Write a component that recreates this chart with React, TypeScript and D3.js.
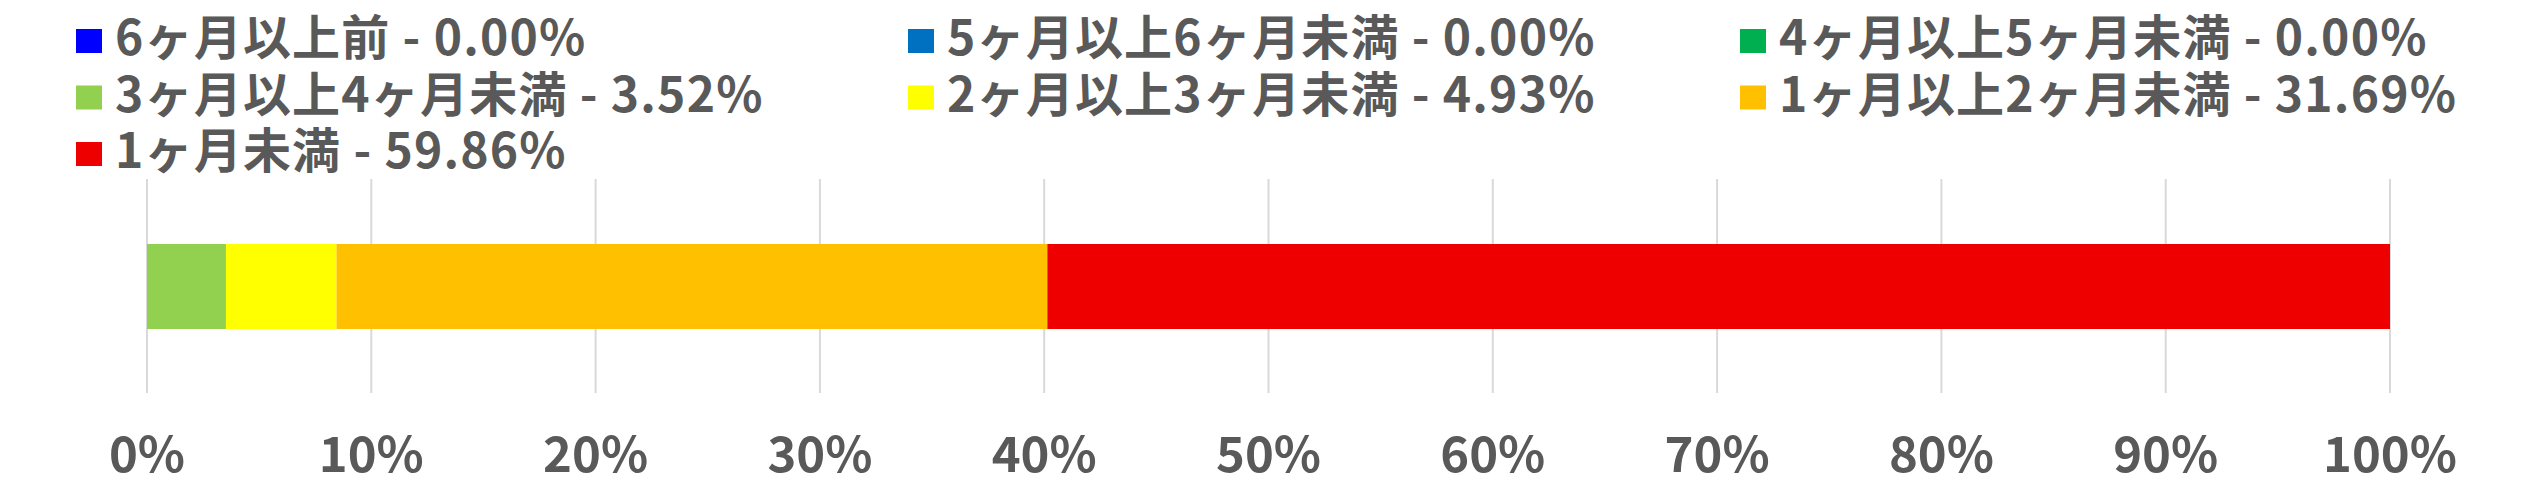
import * as d3 from 'd3';

const CATEGORIES: string[] = [
  '6ヶ月以上前',
  '5ヶ月以上6ヶ月未満',
  '4ヶ月以上5ヶ月未満',
  '3ヶ月以上4ヶ月未満',
  '2ヶ月以上3ヶ月未満',
  '1ヶ月以上2ヶ月未満',
  '1ヶ月未満',
];

const VALUES: number[] = [0, 0, 0, 3.52, 4.93, 31.69, 59.86];

const COLORS: string[] = ['#0000FF', '#0070C0', '#00B050', '#92D050', '#FFFF00', '#FFC000', '#EE0000'];

const TICKS: number[] = [0, 10, 20, 30, 40, 50, 60, 70, 80, 90, 100];

const W = 2522;
const H = 499;
const FONT = '"Noto Sans CJK JP", "Noto Sans", sans-serif';
const INK = '#595959';

export default function App() {
  const x = d3.scaleLinear().domain([0, 100]).range([147, 2390]);

  // cumulative starts for the single stacked bar
  const starts = d3.cumsum([0, ...VALUES.slice(0, -1)]);
  const segments = VALUES.map((v, i) => ({ value: v, start: starts[i], color: COLORS[i] }));

  const barTop = 244;
  const barBottom = 329;
  const gridTop = 179;
  const gridBottom = 393;

  // legend: 3 columns, row-major
  const legendCols = 3;
  const colX = d3.scaleLinear().domain([0, 1]).range([76, 908]);
  const rowY = d3.scaleLinear().domain([0, 1]).range([55, 111.5]);

  return (
    <svg width={W} height={H} style={{ position: 'absolute', left: 0, top: 0, background: '#fff' }}>
      {/* Gridlines */}
      {TICKS.map(t => (
        <line key={`g-${t}`} x1={x(t)} x2={x(t)} y1={gridTop} y2={gridBottom} stroke="#D9D9D9" strokeWidth={2} />
      ))}

      {/* Stacked bar */}
      {segments.filter(s => s.value > 0).map((s, i) => (
        <rect
          key={`s-${i}`}
          x={x(s.start)}
          y={barTop}
          width={x(s.start + s.value) - x(s.start)}
          height={barBottom - barTop}
          fill={s.color}
        />
      ))}

      {/* X axis labels */}
      {TICKS.map(t => (
        <text
          key={`t-${t}`} x={x(t)} y={472}
          textAnchor="middle" fontSize={49} fontWeight={700}
          fontFamily={FONT} fill={INK}
        >
          {t}%
        </text>
      ))}

      {/* Legend */}
      {CATEGORIES.map((c, i) => {
        const col = i % legendCols;
        const row = Math.floor(i / legendCols);
        const lx = colX(col);
        const ly = rowY(row);
        return (
          <g key={`l-${i}`}>
            <rect x={lx} y={ly - 26} width={26} height={24} fill={COLORS[i]} />
            <text
              x={lx + 39} y={ly} fontSize={48} fontWeight={700}
              fontFamily={FONT} fill={INK} letterSpacing={1.2}
            >
              {`${c} - ${VALUES[i].toFixed(2)}%`}
            </text>
          </g>
        );
      })}
    </svg>
  );
}
